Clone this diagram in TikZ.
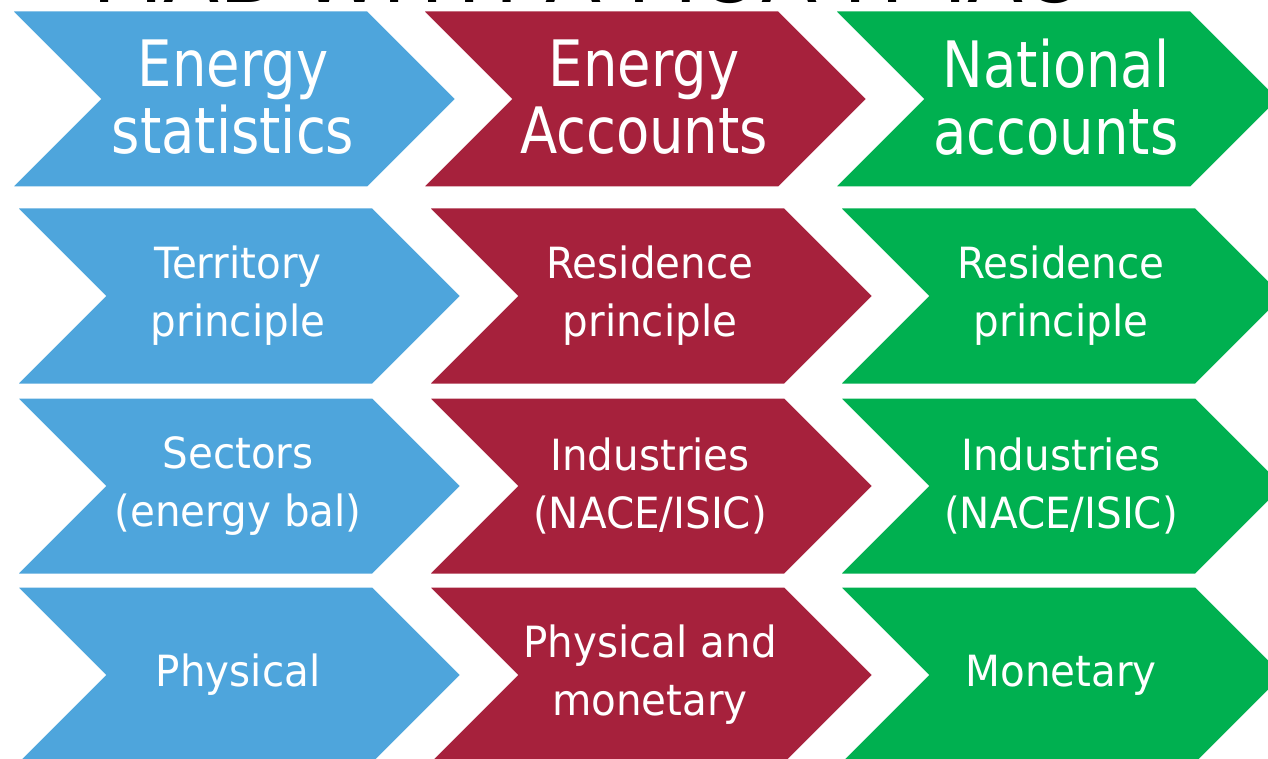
\documentclass[tikz,border=0pt]{standalone}
\usepackage{fontspec}
\newfontfamily\hdfont[FakeStretch=0.85]{DejaVu Sans}
\newfontfamily\bdfont[FakeStretch=0.94]{DejaVu Sans}
\newfontfamily\ttlfont{DejaVu Sans}
\definecolor{cblue}{RGB}{78,165,220}
\definecolor{cred}{RGB}{166,33,60}
\definecolor{cgreen}{RGB}{0,176,80}
\tikzset{
  chevshape/.style={draw=white, line width=3pt, line join=miter},
  headtext/.style={text=white, align=center, inner sep=0pt, yshift=2pt, font=\hdfont\fontsize{64}{67}\selectfont},
  bodytext/.style={text=white, align=center, inner sep=0pt, font=\bdfont\fontsize{43}{58}\selectfont},
}
\newcommand\chev[6]{%
  \fill[#3, chevshape] (#1,#2) -- ++(358,0) -- ++(89,89) -- ++(-89,89) -- ++(-358,0) -- ++(89,-89) -- cycle;
  \node[#6] (#4) at ({#1+223},{#2+89}) {#5};
}
\begin{document}
\begin{tikzpicture}[x=1pt,y=-1pt]
\useasboundingbox (0,0) rectangle (1268,759);
\fill[white] (0,0) rectangle (1268,759);
\node[anchor=base west, inner sep=0pt, font=\ttlfont\fontsize{82}{82}\selectfont] (title) at (92,3) {FIAB WITH A MOA IT IAO};
% row 1
\chev{10}{10}{cblue}{h1}{Energy\\statistics}{headtext}
\chev{421}{10}{cred}{h2}{Energy\\Accounts}{headtext}
\chev{833}{10}{cgreen}{h3}{National\\accounts}{headtext}
% row 2
\chev{15}{207}{cblue}{a1}{Territory\\principle}{bodytext}
\chev{427}{207}{cred}{a2}{Residence\\principle}{bodytext}
\chev{838}{207}{cgreen}{a3}{Residence\\principle}{bodytext}
% row 3
\chev{15}{397}{cblue}{b1}{Sectors\\(energy bal)}{bodytext}
\chev{427}{397}{cred}{b2}{Industries\\(NACE/ISIC)}{bodytext}
\chev{838}{397}{cgreen}{b3}{Industries\\(NACE/ISIC)}{bodytext}
% row 4
\chev{15}{586}{cblue}{c1}{Physical}{bodytext}
\chev{427}{586}{cred}{c2}{Physical and\\monetary}{bodytext}
\chev{838}{586}{cgreen}{c3}{Monetary}{bodytext}
\end{tikzpicture}
\end{document}
